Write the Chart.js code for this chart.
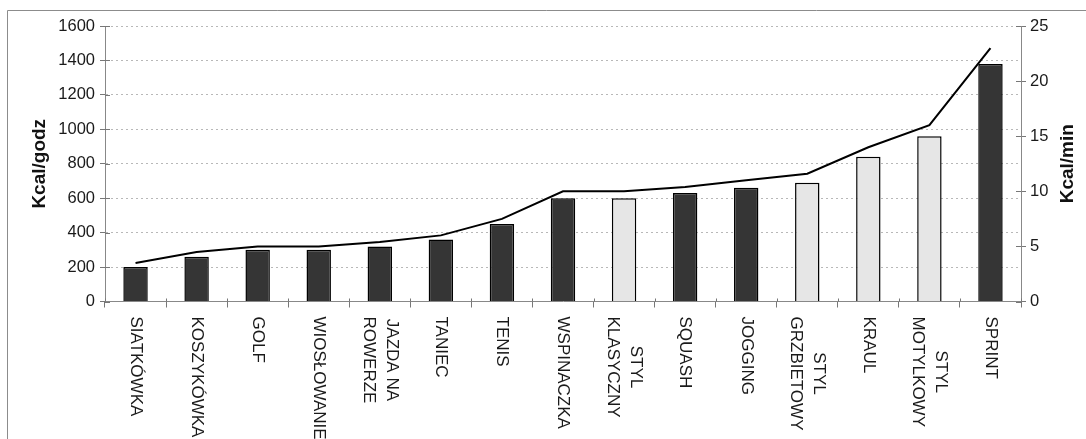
<!DOCTYPE html>
<html lang="pl">
<head>
<meta charset="utf-8">
<title>Wydatek energetyczny</title>
<script src="https://cdn.jsdelivr.net/npm/chart.js@4.4.1/dist/chart.umd.min.js"></script>
<style>
  html, body { margin: 0; padding: 0; background: #ffffff; }
  #wrap { width: 1086px; height: 439px; }
</style>
</head>
<body>
<div id="wrap"><canvas id="c" width="1086" height="439"></canvas></div>
<script>
// Aktywności (etykiety wieloliniowe jako tablice)
const categories = [
  'SIATKÓWKA', 'KOSZYKÓWKA', 'GOLF', 'WIOSŁOWANIE', ['JAZDA NA', 'ROWERZE'],
  'TANIEC', 'TENIS', 'WSPINACZKA', ['STYL', 'KLASYCZNY'], 'SQUASH',
  'JOGGING', ['STYL', 'GRZBIETOWY'], 'KRAUL', ['STYL', 'MOTYLKOWY'], 'SPRINT'
];
// Wydatek energetyczny w kcal na godzinę (słupki, lewa oś)
const kcalPerHour = [200, 260, 300, 300, 320, 360, 450, 600, 600, 630, 660, 690, 840, 960, 1380];
// Wydatek energetyczny w kcal na minutę (linia, prawa oś)
const kcalPerMin = [3.5, 4.5, 5, 5, 5.4, 6, 7.5, 10, 10, 10.4, 11, 11.6, 14, 16, 23];
// Czy aktywność jest stylem pływackim
const swimming = [false, false, false, false, false, false, false, false, true, false, false, true, true, true, false];
// Zakresy osi
const leftAxis = { max: 1600, step: 200, title: 'Kcal/godz' };
const rightAxis = { max: 25, step: 5, title: 'Kcal/min' };

const FONT = "'Liberation Sans', Arial, sans-serif";
const DARK = '#353535';
const LIGHT = '#e6e6e6';
const TICK = '#777';

// Ramka, tytuły osi, znaczniki przecinające osie oraz pionowe etykiety kategorii
const decorations = {
  id: 'decorations',
  beforeDraw(chart) {
    const ctx = chart.ctx;
    ctx.save();
    ctx.fillStyle = '#ffffff';
    ctx.fillRect(0, 0, chart.width, chart.height);
    ctx.restore();
  },
  afterDatasetsDraw(chart) {
    // wewnętrzne części znaczników (znaczniki krzyżujące się z osią)
    const ctx = chart.ctx;
    const area = chart.chartArea;
    const { x: xs, y: ys, y1: ys1 } = chart.scales;
    ctx.save();
    ctx.strokeStyle = TICK;
    ctx.lineWidth = 1;
    ctx.beginPath();
    ys.ticks.forEach((t, i) => {
      const py = Math.round(ys.getPixelForTick(i)) + 0.5;
      ctx.moveTo(area.left, py); ctx.lineTo(area.left + 5, py);
    });
    ys1.ticks.forEach((t, i) => {
      const py = Math.round(ys1.getPixelForTick(i)) + 0.5;
      ctx.moveTo(area.right, py); ctx.lineTo(area.right - 5, py);
    });
    for (let i = 0; i <= categories.length; i++) {
      const px = Math.round(xs.getPixelForValue(i - 0.5)) + 0.5;
      ctx.moveTo(px, area.bottom); ctx.lineTo(px, area.bottom - 3);
    }
    ctx.stroke();
    ctx.restore();
  },
  afterDraw(chart) {
    const ctx = chart.ctx;
    const area = chart.chartArea;
    const midY = (area.top + area.bottom) / 2;
    ctx.save();
    // ramka
    ctx.strokeStyle = '#8c8c8c';
    ctx.lineWidth = 1;
    ctx.beginPath();
    ctx.moveTo(7.5, chart.height);
    ctx.lineTo(7.5, 10.5);
    ctx.lineTo(chart.width, 10.5);
    ctx.stroke();

    // tytuły osi, czytane od dołu do góry
    ctx.fillStyle = '#111';
    ctx.font = 'bold 19px ' + FONT;
    ctx.textAlign = 'center';
    ctx.textBaseline = 'middle';
    [[40, leftAxis.title], [1068, rightAxis.title]].forEach(([x, t]) => {
      ctx.save();
      ctx.translate(x, midY);
      ctx.rotate(-Math.PI / 2);
      ctx.fillText(t, 0, 0);
      ctx.restore();
    });

    // etykiety kategorii obrócone zgodnie z ruchem wskazówek zegara
    const xs = chart.scales.x;
    ctx.font = '17px ' + FONT;
    ctx.fillStyle = '#1a1a1a';
    const lineH = 23;
    categories.forEach((lab, i) => {
      const lines = Array.isArray(lab) ? lab : [lab];
      const maxW = Math.max(...lines.map(l => ctx.measureText(l).width));
      const x = xs.getPixelForValue(i);
      ctx.save();
      ctx.translate(x, area.bottom + 15);
      ctx.rotate(Math.PI / 2);
      ctx.textAlign = 'center';
      ctx.textBaseline = 'middle';
      lines.forEach((l, k) => {
        const off = (k - (lines.length - 1) / 2) * lineH;
        ctx.fillText(l, maxW / 2, off);
      });
      ctx.restore();
    });
    ctx.restore();
  }
};

const plainTick = v => String(v);

new Chart(document.getElementById('c'), {
  data: {
    labels: categories,
    datasets: [
      {
        type: 'line',
        label: rightAxis.title,
        data: kcalPerMin,
        yAxisID: 'y1',
        borderColor: '#000',
        borderWidth: 2,
        pointRadius: 0,
        tension: 0,
        order: 0
      },
      {
        type: 'bar',
        label: leftAxis.title,
        data: kcalPerHour,
        yAxisID: 'y',
        backgroundColor: swimming.map(s => s ? LIGHT : DARK),
        borderColor: '#000',
        borderWidth: 1.5,
        categoryPercentage: 1,
        barPercentage: 0.4,
        order: 1
      }
    ]
  },
  options: {
    responsive: false,
    animation: false,
    devicePixelRatio: 1,
    layout: { padding: { top: 26, left: 0, right: 0, bottom: 0 } },
    plugins: { legend: { display: false }, tooltip: { enabled: false } },
    scales: {
      x: {
        type: 'category',
        offset: true,
        grid: { display: true, offset: true, drawOnChartArea: false, drawTicks: true, tickLength: 6, color: TICK },
        border: { display: true, color: '#888', width: 1 },
        ticks: { display: false },
        afterFit: s => { s.height = 439 - 301.5; }
      },
      y: {
        position: 'left',
        min: 0,
        max: leftAxis.max,
        ticks: { stepSize: leftAxis.step, callback: plainTick, color: '#1a1a1a', font: { family: FONT, size: 16.5 }, padding: 5 },
        grid: { color: '#b8b8b8', tickColor: TICK, tickLength: 5, drawTicks: true },
        border: { display: true, color: '#888', width: 1, dash: [2, 3] },
        afterFit: s => { s.width = 105; }
      },
      y1: {
        position: 'right',
        min: 0,
        max: rightAxis.max,
        ticks: { stepSize: rightAxis.step, callback: plainTick, color: '#1a1a1a', font: { family: FONT, size: 16.5 }, padding: 4 },
        grid: { drawOnChartArea: false, tickColor: TICK, tickLength: 5, drawTicks: true },
        border: { display: true, color: '#888', width: 1 },
        afterFit: s => { s.width = 1086 - 1021; }
      }
    }
  },
  plugins: [decorations]
});
</script>
</body>
</html>
